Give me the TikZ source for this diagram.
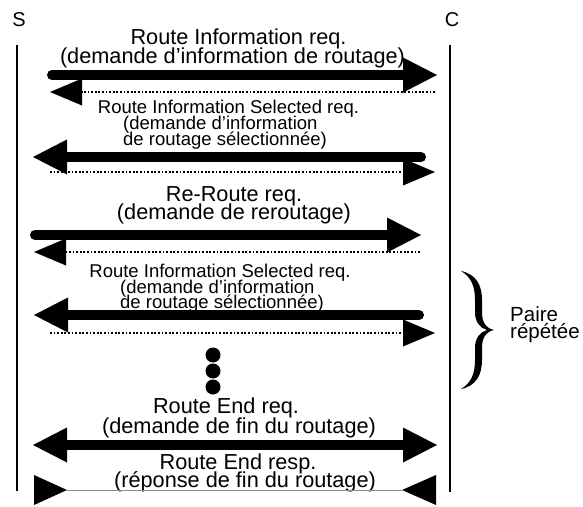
\documentclass[tikz,border=0pt]{standalone}
\usepackage{fontspec}
\setmainfont{Liberation Sans}
\usetikzlibrary{arrows.meta}
\begin{document}
\begin{tikzpicture}[x=1pt,y=-1pt,
  lifeline/.style={line width=2.2pt},
  msgthick/.style={line width=10pt,line cap=round,-{Triangle[length=34pt,width=35pt,line width=0pt]}},
  msgboth/.style={line width=10pt,{Triangle[length=34pt,width=35pt,line width=0pt]}-{Triangle[length=34pt,width=35pt,line width=0pt]}},
  msgdot/.style={line width=1.5pt,dash pattern=on 1.8pt off 1.8pt,-{Triangle[length=32pt,width=27pt,line width=0pt]}},
  msgthin/.style={line width=1pt,draw=black!45},
  lbig/.style={font=\fontsize{21.7}{21.7}\selectfont,inner sep=0pt,anchor=base},
  lsmall/.style={font=\fontsize{18.5}{18.5}\selectfont,inner sep=0pt,anchor=base},
  lside/.style={font=\fontsize{20.5}{20.5}\selectfont,inner sep=0pt,anchor=base west},
  lhead/.style={font=\fontsize{20}{20}\selectfont,inner sep=0pt,anchor=base}]
\useasboundingbox (0,0) rectangle (583,506);

% lifelines
\node[lhead] (S) at (19,27) {S};
\node[lhead] (C) at (452,27) {C};
\coordinate (Stop) at (17,45); \coordinate (Sbot) at (17,491);
\coordinate (Ctop) at (450,45); \coordinate (Cbot) at (450,492);
\draw[lifeline] (Stop) -- (Sbot);
\draw[lifeline] (Ctop) -- (Cbot);

% message 1
\node[lbig] (t1a) at (238.5,44) {Route Information req.};
\node[lbig] (t1b) at (232.5,63) {(demande d’information de routage)};
\coordinate (a1s) at (52,75); \coordinate (a1e) at (437,75);
\draw[msgthick] (a1s) -- (a1e);
\coordinate (d1s) at (435,92); \coordinate (d1e) at (50,92);
\draw[msgdot] (d1s) -- (d1e);

% message 2
\node[lsmall] (t2a) at (228.5,113) {Route Information Selected req.};
\node[lsmall,anchor=base west] (t2b) at (123,129.5) {(demande d’information};
\node[lsmall,anchor=base west] (t2c) at (123,145) {de routage sélectionnée)};
\coordinate (a2s) at (421,157); \coordinate (a2e) at (33,157);
\draw[msgthick] (a2s) -- (a2e);
\coordinate (d2s) at (50,172); \coordinate (d2e) at (435,172);
\draw[msgdot] (d2s) -- (d2e);

% message 3
\node[lbig] (t3a) at (234,201) {Re-Route req.};
\node[lbig] (t3b) at (234,219) {(demande de reroutage)};
\coordinate (a3s) at (35,235); \coordinate (a3e) at (421,235);
\draw[msgthick] (a3s) -- (a3e);
\coordinate (d3s) at (420,252); \coordinate (d3e) at (34,252);
\draw[msgdot] (d3s) -- (d3e);

% message 4
\node[lsmall] (t4a) at (220,277) {Route Information Selected req.};
\node[lsmall,anchor=base west] (t4b) at (120,293) {(demande d’information};
\node[lsmall,anchor=base west] (t4c) at (120,308) {de routage sélectionnée)};
\coordinate (a4s) at (419,315); \coordinate (a4e) at (34,315);
\draw[msgthick] (a4s) -- (a4e);
\coordinate (d4s) at (50,333); \coordinate (d4e) at (435,333);
\draw[msgdot] (d4s) -- (d4e);

% dots
\fill (213,355) circle (7.5pt);
\fill (213,371) circle (7.5pt);
\fill (213,387) circle (7.5pt);

% message 5
\node[lbig] (t5a) at (226,413) {Route End req.};
\node[lbig] (t5b) at (239,433) {(demande de fin du routage)};
\coordinate (a5s) at (33,445); \coordinate (a5e) at (437,445);
\draw[msgboth] (a5s) -- (a5e);

% message 6
\node[lbig] (t6a) at (238,469) {Route End resp.};
\node[lbig] (t6b) at (245,487) {(réponse de fin du routage)};
\coordinate (a6s) at (67,490); \coordinate (a6e) at (402,490);
\draw[msgthin] (a6s) -- (a6e);
\fill (34,475) -- (67,490) -- (34,505) -- cycle;
\fill (436,475) -- (402,490) -- (436,505) -- cycle;

% brace
\fill (461,271) .. controls (476,274) and (482,285) .. (482,300)
  -- (482,312) .. controls (482,321) and (485,328) .. (494,330)
  .. controls (485,332) and (482,339) .. (482,348)
  -- (482,360) .. controls (482,375) and (476,386) .. (461,389)
  .. controls (471,383) and (475,374) .. (475,360)
  -- (475,348) .. controls (475,338) and (480,332) .. (487,330)
  .. controls (480,328) and (475,322) .. (475,312)
  -- (475,300) .. controls (475,286) and (471,277) .. (461,271) -- cycle;
\node[lside] (p1) at (510,321) {Paire};
\node[lside] (p2) at (510,338) {répétée};
\end{tikzpicture}
\end{document}
